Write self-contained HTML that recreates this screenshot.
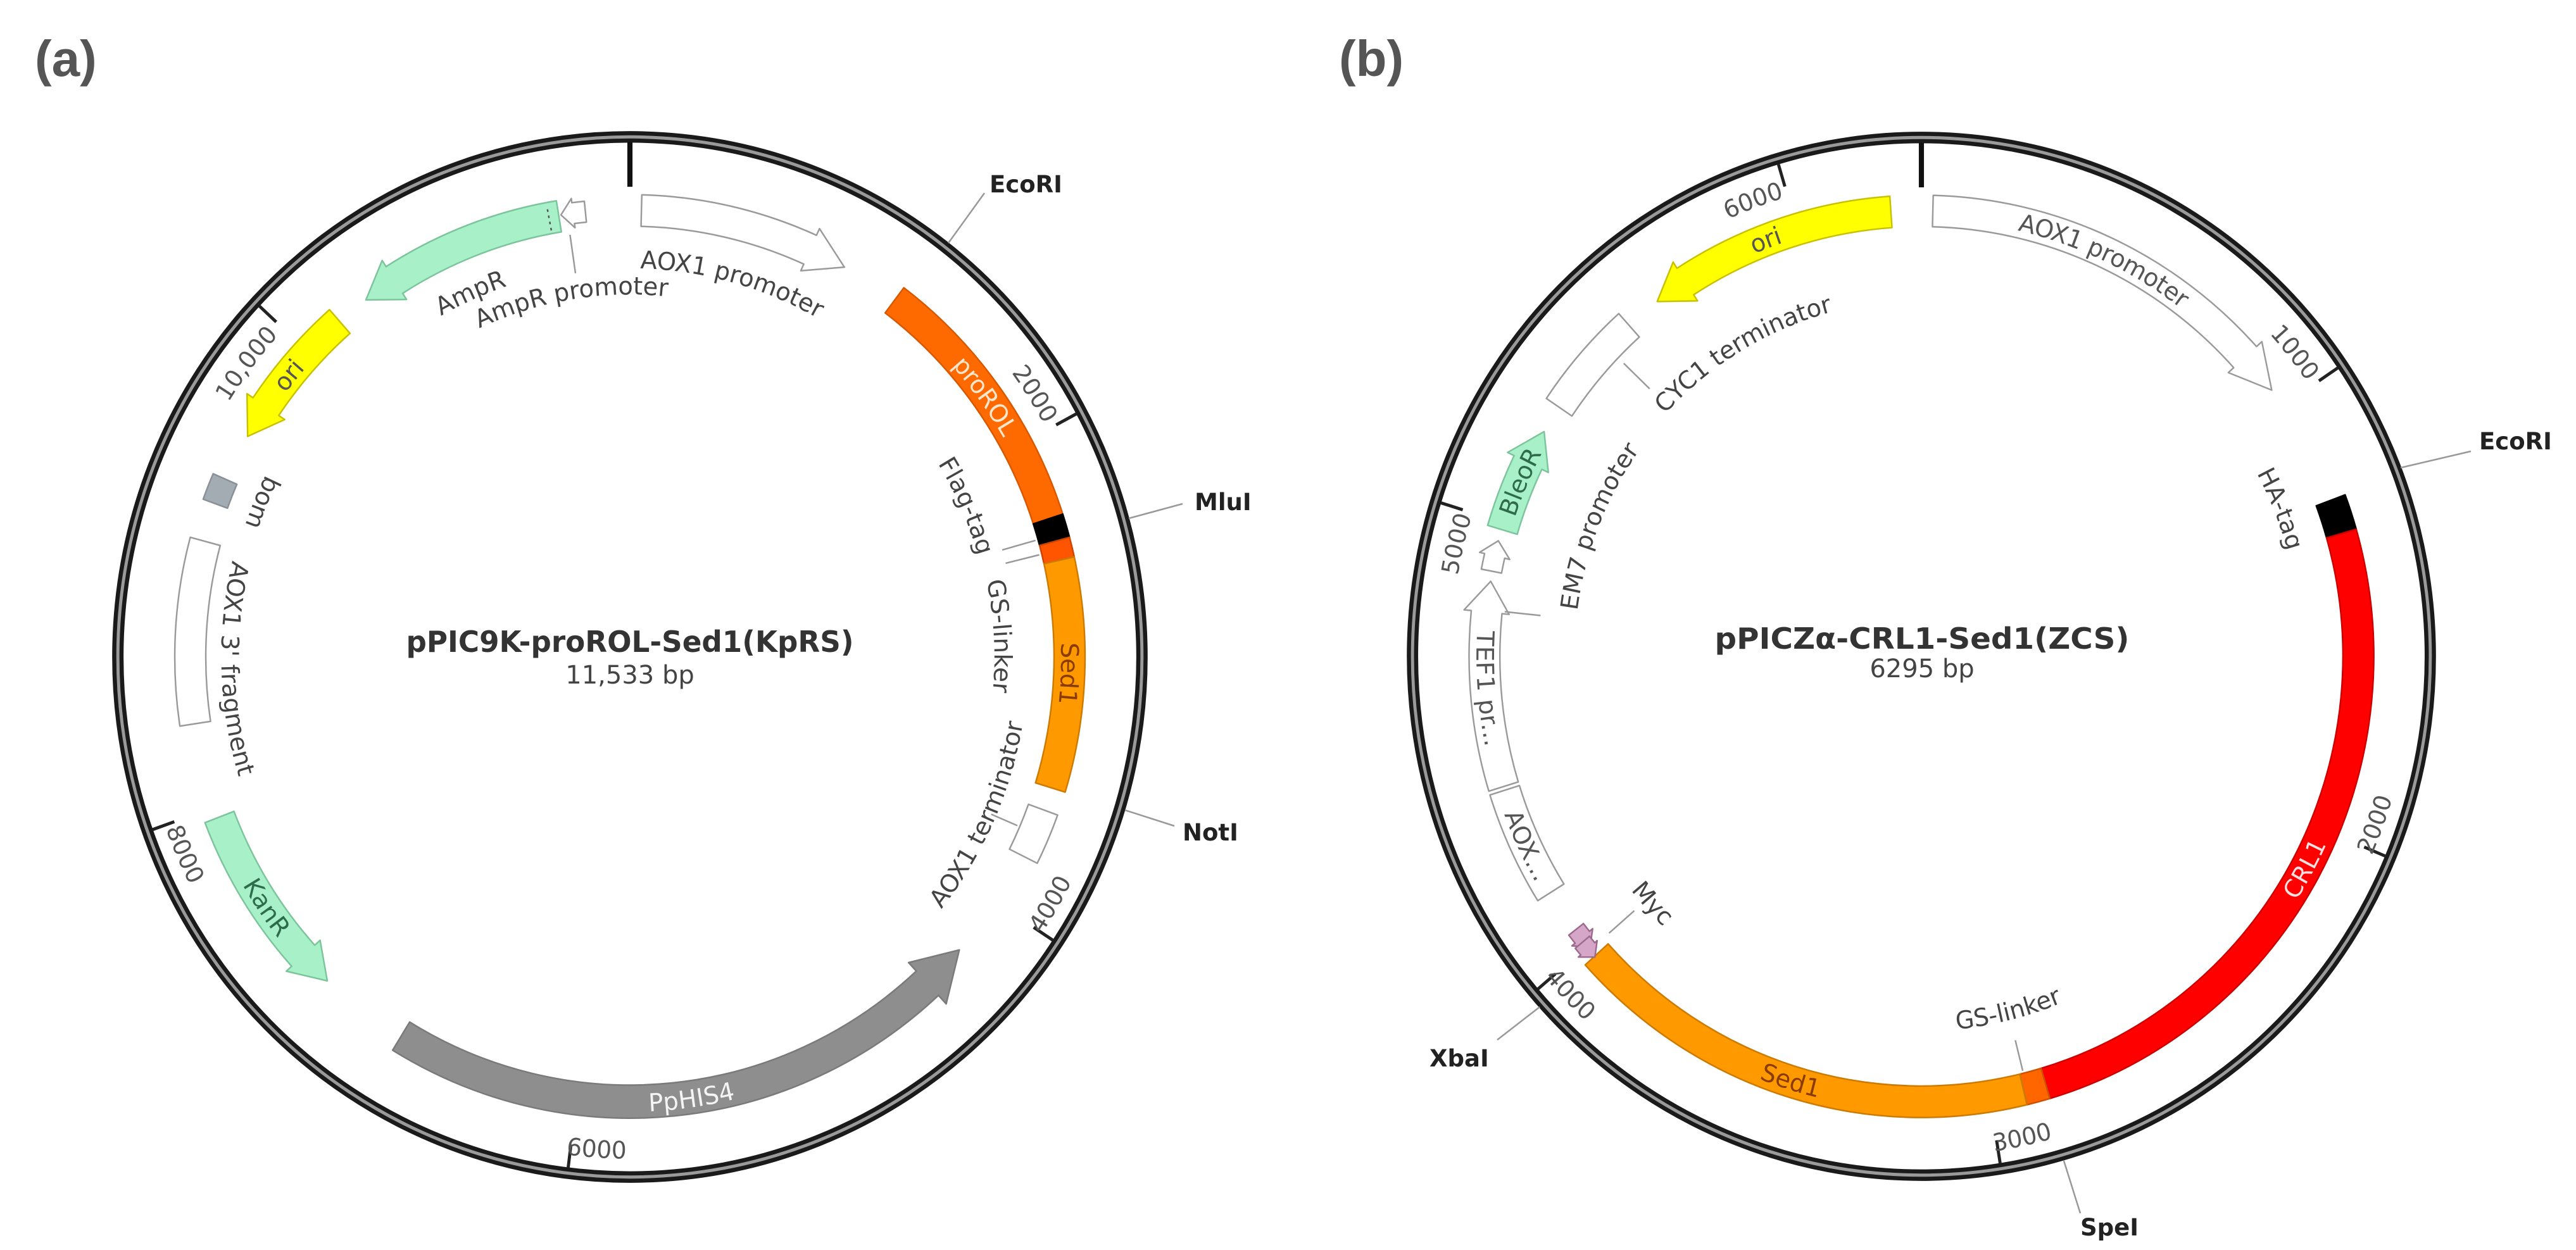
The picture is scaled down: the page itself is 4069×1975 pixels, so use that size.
<!DOCTYPE html>
<html><head><meta charset="utf-8">
<style>html,body{margin:0;padding:0;background:#fff}svg{display:block}
.L{font-size:47px;fill:#444}.T{font-size:46px;fill:#555}.E{font-family:"DejaVu Sans","Liberation Sans",sans-serif;font-weight:bold;font-size:37px;fill:#222}</style>
</head><body>
<svg id="s" width="4069" height="1975" viewBox="0 0 4069 1975" xmlns="http://www.w3.org/2000/svg" font-family="'DejaVu Sans','Liberation Sans',sans-serif">
<rect width="4069" height="1975" fill="#fff"/>
<defs id="defs"></defs>
<text x="55" y="120" font-family="'Liberation Sans',sans-serif" font-weight="bold" font-size="80" fill="#555">(a)</text>
<text x="2115" y="120" font-family="'Liberation Sans',sans-serif" font-weight="bold" font-size="80" fill="#555">(b)</text>

<!-- map A -->
<g id="A" transform="translate(995,1038) scale(0.817,0.83)">
<g id="Af"></g>
<text class="L" a="1.5" r="740" d="cw" text-anchor="start">AOX1 promoter</text>
<text class="L" a="6" r="690" d="cw" text-anchor="end">AmpR promoter</text>
<text class="L" a="-24" r="745" d="cw" text-anchor="middle">AmpR</text>
<text class="L" a="-51" r="850" d="cw" text-anchor="middle" c="1" style="fill:#555">ori</text>
<text class="L" a="-67.5" r="785" d="ccw" text-anchor="middle">bom</text>
<text class="L" a="-76.5" r="790" d="ccw" text-anchor="start">AOX1 3' fragment</text>
<text class="L" a="-124" r="850" d="ccw" text-anchor="middle" c="1" style="fill:#2d6b4a">KanR</text>
<text class="L" a="172" r="850" d="ccw" text-anchor="middle" c="1" style="fill:#f4f4f4">PpHIS4</text>
<text class="L" a="54" r="850" d="cw" text-anchor="middle" c="1" style="fill:#ffe6cc">proROL</text>
<text class="L" a="92" r="850" d="cw" text-anchor="middle" c="1" style="fill:#8a3c00">Sed1</text>
<text class="L" a="74" r="700" d="cw" text-anchor="end">Flag-tag</text>
<text class="L" a="78" r="705" d="cw" text-anchor="start">GS-linker</text>
<text class="L" a="114" r="770" d="ccw" text-anchor="middle">AOX1 terminator</text>
<text class="T" a="-48" r="915" d="cw" text-anchor="end">10,000</text>
<text class="T" a="61" r="915" d="cw" text-anchor="end">2000</text>
<text class="T" a="123.6" r="955" d="ccw" text-anchor="start">4000</text>
<text class="T" a="187.5" r="955" d="ccw" text-anchor="start">6000</text>
<text class="T" a="-110" r="955" d="ccw" text-anchor="start">8000</text>
</g>

<!-- map B -->
<g id="B" transform="translate(3035,1037) scale(0.812,0.828)">
<g id="Bf"></g>
<text class="L" a="25" r="850" d="cw" text-anchor="middle" c="1" style="fill:#555">AOX1 promoter</text>
<text class="T" a="55" r="915" d="cw" text-anchor="end">1000</text>
<text class="L" a="68" r="740" d="cw" text-anchor="middle">HA-tag</text>
<text class="L" a="118.6" r="850" d="ccw" text-anchor="middle" c="1" style="fill:#ffe0e0">CRL1</text>
<text class="T" a="113.5" r="955" d="ccw" text-anchor="start">2000</text>
<text class="L" a="166" r="715" d="ccw" text-anchor="middle">GS-linker</text>
<text class="L" a="197.6" r="850" d="ccw" text-anchor="middle" c="1" style="fill:#8a3c00">Sed1</text>
<text class="T" a="171.5" r="955" d="ccw" text-anchor="start">3000</text>
<text class="L" a="228" r="720" d="ccw" text-anchor="middle">Myc</text>
<text class="T" a="230.2" r="955" d="ccw" text-anchor="start">4000</text>
<text class="L" a="245" r="850" d="ccw" text-anchor="middle" c="1" style="fill:#555">AOX...</text>
<text class="L" a="266" r="850" d="ccw" text-anchor="middle" c="1" style="fill:#555">TEF1 pr...</text>
<text class="L" a="291.5" r="675" d="cw" text-anchor="middle">EM7 promoter</text>
<text class="L" a="293" r="850" d="cw" text-anchor="middle" c="1" style="fill:#2d6b4a">BleoR</text>
<text class="T" a="287" r="915" d="cw" text-anchor="end">5000</text>
<text class="L" a="329" r="680" d="cw" text-anchor="middle">CYC1 terminator</text>
<text class="L" a="339" r="850" d="cw" text-anchor="middle" c="1" style="fill:#555">ori</text>
<text class="T" a="343" r="915" d="cw" text-anchor="end">6000</text>
</g>

<!-- centre titles -->
<text x="995" y="1030" text-anchor="middle" font-size="46" font-weight="bold" fill="#333" textLength="707" lengthAdjust="spacingAndGlyphs">pPIC9K-proROL-Sed1(KpRS)</text>
<text x="995" y="1080" text-anchor="middle" font-size="40" fill="#444">11,533 bp</text>
<text x="3036" y="1025" text-anchor="middle" font-size="46" font-weight="bold" fill="#333" textLength="655" lengthAdjust="spacingAndGlyphs">pPICZα-CRL1-Sed1(ZCS)</text>
<text x="3036" y="1070" text-anchor="middle" font-size="40" fill="#444">6295 bp</text>

<!-- enzyme sites -->
<g stroke="#999" stroke-width="2.5">
<line x1="1498" y1="384" x2="1555" y2="305"/>
<line x1="1783" y1="819" x2="1868" y2="796"/>
<line x1="1777" y1="1280" x2="1855" y2="1305"/>
<line x1="3792" y1="739" x2="3903" y2="713"/>
<line x1="3260" y1="1834" x2="3286" y2="1917"/>
<line x1="2432" y1="1591" x2="2365" y2="1643"/>
</g>
<text class="E" x="1563" y="304">EcoRI</text>
<text class="E" x="1887" y="806">MluI</text>
<text class="E" x="1868" y="1328">NotI</text>
<text class="E" x="3916" y="710">EcoRI</text>
<text class="E" x="3286" y="1952">SpeI</text>
<text class="E" x="2258" y="1685">XbaI</text>

<script>
(function(){
var NS='http://www.w3.org/2000/svg';
function P(a,r){a=a*Math.PI/180;return [r*Math.sin(a),-r*Math.cos(a)];}
function f(p){return p[0].toFixed(1)+','+p[1].toFixed(1);}
function arcTo(a1,a2,r){var sw=a2>a1?1:0,lg=Math.abs(a2-a1)>180?1:0;return ' A'+r+','+r+' 0 '+lg+' '+sw+' '+f(P(a2,r));}
function box(a1,a2,r1,r2){return 'M'+f(P(a1,r2))+arcTo(a1,a2,r2)+' L'+f(P(a2,r1))+arcTo(a2,a1,r1)+' Z';}
function arrow(a1,a2,r1,r2,h,hw){var d=a2>a1?1:-1;if(h>Math.abs(a2-a1))h=Math.abs(a2-a1);var b=a2-d*h,m=(r1+r2)/2;
 return 'M'+f(P(a1,r2))+arcTo(a1,b,r2)+' L'+f(P(b,r2+hw))+' L'+f(P(a2,m))+' L'+f(P(b,r1-hw))+' L'+f(P(b,r1))+arcTo(b,a1,r1)+' Z';}
function el(par,tag,at){var e=document.createElementNS(NS,tag);for(var k in at)e.setAttribute(k,at[k]);par.appendChild(e);return e;}
var R1=820,R2=880;
function ring(g,ticks){
 el(g,'circle',{r:990,fill:'none',stroke:'#1a1a1a','stroke-width':22});
 el(g,'circle',{r:990,fill:'none',stroke:'#9a9a9a','stroke-width':6});
 var t0=P(0,980),t1=P(0,895);
 el(g,'line',{x1:t0[0],y1:t0[1],x2:t1[0],y2:t1[1],stroke:'#111','stroke-width':10});
 ticks.forEach(function(a){var p=P(a,980),q=P(a,935);el(g,'line',{x1:p[0],y1:p[1],x2:q[0],y2:q[1],stroke:'#222','stroke-width':6});});
}
function feats(g,list){
 list.forEach(function(F){
  var d;
  if(F[0]=='b')d=box(F[1],F[2],F[5]||R1,F[6]||R2);
  else if(F[0]=='a')d=arrow(F[1],F[2],F[5]||R1,F[6]||R2,F[7]||4.5,F[8]==null?14:F[8]);
  else if(F[0]=='l'){var p=P(F[1],F[2]),q=P(F[1],F[3]);el(g,'line',{x1:p[0],y1:p[1],x2:q[0],y2:q[1],stroke:F[4]||'#999','stroke-width':3,'stroke-dasharray':F[5]||'none'});return;}
  el(g,'path',{d:d,fill:F[3],stroke:F[4],'stroke-width':3,'stroke-linejoin':'round'});
 });
}
var W='#fff',WS='#9a9a9a',G='#a8f0c8',GS='#7cc49c',Y='#ffff00',YS='#c8c000';
var A=document.getElementById('Af'),B=document.getElementById('Bf');
ring(A,[-47,61.8,123.4,187,-109.6]);
feats(A,[
 ['a',1.5,29.2,W,WS,820,880,5],
 ['a',-9.3,-36.9,G,GS],
 ['a',-5.8,-9.0,W,WS,832,872,1.6,8],
 ['l',-10.6,826,874,'#555','5,7'],
 ['l',-8.2,812,738,'#999'],
 ['a',-41.3,-60.4,Y,YS],
 ['b',-66.6,-70,'#a3abb3','#8a9098',828,878],
 ['b',-75,-98.6,W,WS],
 ['a',-111,-136.5,G,GS],
 ['a',211.5,131.2,'#8e8e8e','#7a7a7a',815,878,6,22],
 ['b',37,72,'#ff6a00','#d85800'],
 ['b',72,75,'#000','#000'],
 ['b',75,77.5,'#ff5500','#cc4400'],
 ['b',77.5,107,'#ff9900','#cc7a00'],
 ['b',110,116.5,W,WS],
 ['l',74.2,748,815,'#999'],
 ['l',76.2,748,815,'#999'],
 ['l',113.2,760,815,'#999']
]);
ring(B,[55.8,112.9,171,229.6,287.4,343.5]);
feats(B,[
 ['a',1.5,53.3,W,WS,820,880,5.5],
 ['b',69.5,74,'#000','#000'],
 ['b',74,163.5,'#ff0000','#cc0000'],
 ['b',163.5,166.5,'#ff6600','#cc5200'],
 ['b',166.5,228,'#ff9900','#cc7a00'],
 ['a',232.2,229.3,'#d6a6c8','#9c6a8c',832,868,1.6,8],
 ['a',230.4,227.9,'#d6a6c8','#9c6a8c',838,874,1.4,6],
 ['b',238,252.5,W,WS],
 ['a',253,279.7,W,WS,820,880,4],
 ['a',281,285,W,WS,832,872,2,10],
 ['a',286.5,300.3,G,GS],
 ['b',304,318,W,WS],
 ['a',356,322.8,Y,YS],
 ['l',166,755,815,'#999'],
 ['l',276,745,815,'#999'],
 ['l',314,735,805,'#999'],
 ['l',229,740,805,'#999']
]);
var defs=document.getElementById('defs'),made={};
function cpath(r,dir){var id='c'+dir+r;if(made[id])return id;made[id]=1;
 var s=dir=='cw'?1:0,d='M0,'+(-r);for(var i=0;i<4;i++){d+=' A'+r+','+r+' 0 0 '+s+' 0,'+((i%2==0)?r:-r);}
 el(defs,'path',{id:id,d:d});return id;}
document.querySelectorAll('text[a]').forEach(function(t){
 var a=parseFloat(t.getAttribute('a')),r=parseFloat(t.getAttribute('r')),dir=t.getAttribute('d');
 var id=cpath(r,dir),p;
 if(dir=='cw'){p=((a%360)+360)%360;}else{p=(((360-a)%360)+360)%360;}
 if(p<180)p+=360;
 var off=p/720*4*Math.PI*r;
 var tp=document.createElementNS(NS,'textPath');
 tp.setAttribute('href','#'+id);tp.setAttributeNS('http://www.w3.org/1999/xlink','xlink:href','#'+id);
 tp.setAttribute('startOffset',off.toFixed(1));
 if(t.getAttribute('c'))t.setAttribute('dominant-baseline','central');
 while(t.firstChild)tp.appendChild(t.firstChild);
 t.appendChild(tp);
});
})();
</script>
</svg>
</body></html>
